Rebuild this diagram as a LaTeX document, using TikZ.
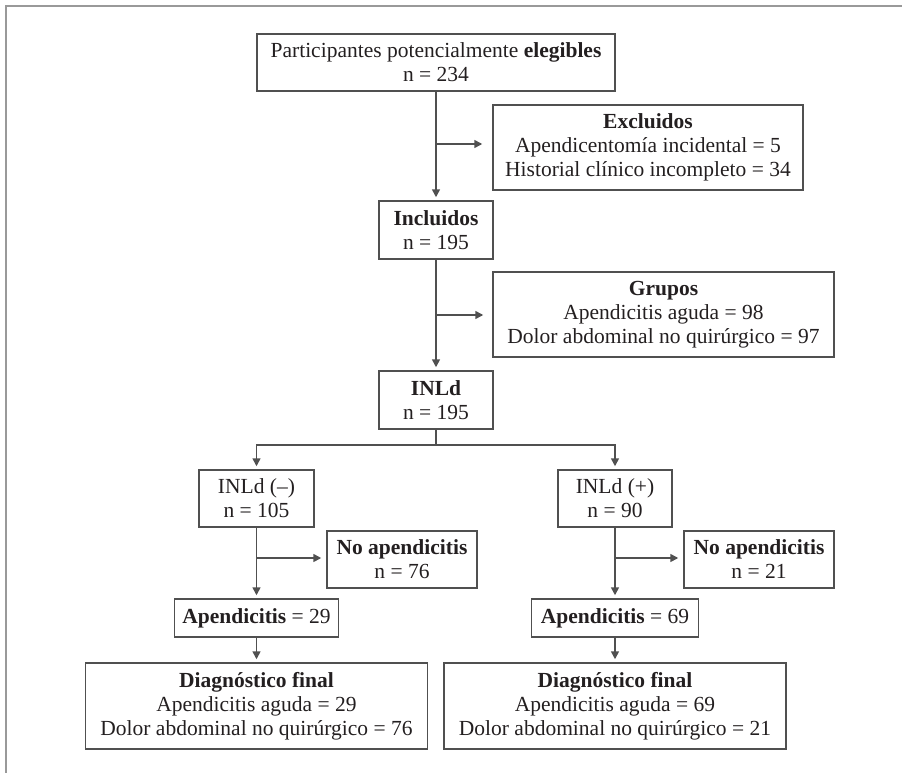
\documentclass[tikz,border=0pt]{standalone}
\usepackage{fontspec}
\setmainfont{Liberation Serif}
\usetikzlibrary{arrows.meta}
\definecolor{ln}{HTML}{505050}
\definecolor{tx}{HTML}{231F20}
\begin{document}
\begin{tikzpicture}[x=1pt,y=-1pt,
  box/.style={draw=ln,line width=1.5pt,inner sep=0pt,align=center,text=tx,
    font=\fontsize{21.5}{24}\selectfont},
  conn/.style={draw=ln,line width=1.6pt},
  arr/.style={conn,-{Triangle[length=8pt,width=8pt]}}]
\useasboundingbox (0,0) rectangle (902,773);
\draw[draw=gray!80,line width=1.5pt] (6,773) -- (6,6) -- (902,6);
% nodes
\node[box,minimum width=358pt,minimum height=57pt] (p) at (436,62.5) {Participantes potencialmente \textbf{elegibles}\\n = 234};
\node[box,minimum width=310pt,minimum height=85pt] (ex) at (648,147.5) {\textbf{Excluidos}\\Apendicentomía incidental = 5\\Historial clínico incompleto = 34};
\node[box,minimum width=114pt,minimum height=58pt] (inc) at (436,230) {\textbf{Incluidos}\\n = 195};
\node[box,minimum width=341pt,minimum height=85pt] (gr) at (663.5,314.5) {\textbf{Grupos}\\Apendicitis aguda = 98\\Dolor abdominal no quirúrgico = 97};
\node[box,minimum width=114pt,minimum height=58pt] (inl) at (436,400) {\textbf{INLd}\\n = 195};
\node[box,minimum width=115pt,minimum height=57pt] (neg) at (256.5,498.5) {INLd (–)\\n = 105};
\node[box,minimum width=114pt,minimum height=57pt] (pos) at (615,498.5) {INLd (+)\\n = 90};
\node[box,minimum width=150pt,minimum height=57pt] (nan) at (402,559.5) {\textbf{No apendicitis}\\n = 76};
\node[box,minimum width=150pt,minimum height=57pt] (nap) at (759,559.5) {\textbf{No apendicitis}\\n = 21};
\node[box,minimum width=164pt,minimum height=38pt] (an) at (256.5,618) {\textbf{Apendicitis} = 29};
\node[box,minimum width=167pt,minimum height=38pt] (ap) at (615,618) {\textbf{Apendicitis} = 69};
\node[box,minimum width=342pt,minimum height=86pt] (dn) at (256.5,706) {\textbf{Diagnóstico final}\\Apendicitis aguda = 29\\Dolor abdominal no quirúrgico = 76};
\node[box,minimum width=342pt,minimum height=86pt] (dp) at (615,706) {\textbf{Diagnóstico final}\\Apendicitis aguda = 69\\Dolor abdominal no quirúrgico = 21};
% branch points
\coordinate (b1) at (436,144);
\coordinate (b2) at (436,315);
\coordinate (b3) at (436,445);
\coordinate (b4) at (256.5,558);
\coordinate (b5) at (615,558);
% connectors
\draw[arr,shorten >=3pt] (p.south) -- (inc.north);
\draw[arr,shorten >=10pt] (b1) -- (b1 -| ex.west);
\draw[arr,shorten >=3pt] (inc.south) -- (inl.north);
\draw[arr,shorten >=9pt] (b2) -- (b2 -| gr.west);
\draw[conn] (inl.south) -- (b3);
\draw[arr,shorten >=3pt] (b3) -| (neg.north);
\draw[arr,shorten >=3pt] (b3) -| (pos.north);
\draw[arr,shorten >=3pt] (neg.south) -- (an.north);
\draw[arr,shorten >=5pt] (b4) -- (b4 -| nan.west);
\draw[arr,shorten >=3pt] (pos.south) -- (ap.north);
\draw[arr,shorten >=5pt] (b5) -- (b5 -| nap.west);
\draw[arr,shorten >=3pt] (an.south) -- (dn.north);
\draw[arr,shorten >=3pt] (ap.south) -- (dp.north);
\end{tikzpicture}
\end{document}
